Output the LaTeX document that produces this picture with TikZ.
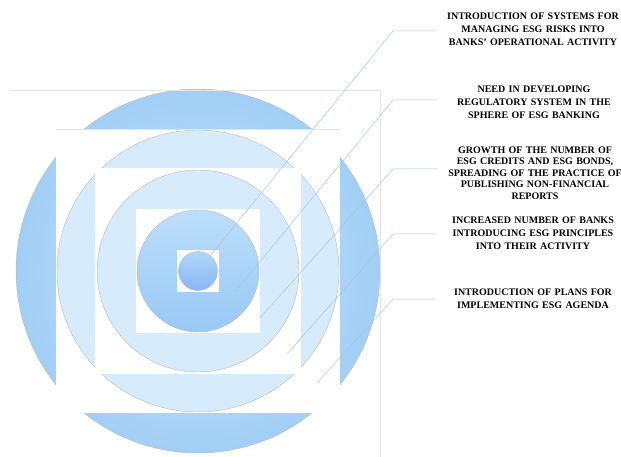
\documentclass[tikz,border=0pt]{standalone}
\usepackage{fontspec}
\setmainfont{Liberation Serif}
\usetikzlibrary{calc}
\definecolor{ringblue}{RGB}{162,207,246}
\definecolor{ringlight}{RGB}{200,228,251}
\definecolor{ringpale}{RGB}{214,236,252}
\definecolor{corelight}{RGB}{188,222,250}
\definecolor{coredark}{RGB}{152,201,245}
\definecolor{leadblue}{RGB}{165,198,226}
\definecolor{framegray}{RGB}{232,228,224}

\begin{document}
\begin{tikzpicture}[x=1pt,y=-1pt,
    ring/.style={circle, draw=gray!55, line width=0.4pt, inner sep=0pt},
    gap/.style={rectangle, fill=white, inner sep=0pt},
    itembox/.style={text width=190pt, align=center, inner sep=0pt, font=\fontsize{10}{13}\selectfont\bfseries},
    leader/.style={draw=leadblue, line width=0.5pt},
    frame/.style={draw=framegray, line width=0.5pt}
  ]
  \useasboundingbox (0,0) rectangle (621,457);
  \coordinate (c) at (198,271);

  % rings and white squares
  \node[ring, minimum size=364pt, inner color=ringlight, outer color=ringblue] (r1) at (c) {};
  \node[gap, minimum size=284pt] (s1) at (c) {};
  \node[ring, minimum size=282pt, fill=ringpale] (r2) at (c) {};
  \node[gap, minimum size=206pt] (s2) at (c) {};
  \node[ring, minimum size=202pt, fill=ringpale] (r3) at (c) {};
  \node[gap, minimum size=124pt] (s3) at (c) {};
  \node[ring, minimum size=122pt, top color=corelight, bottom color=coredark] (r4) at (c) {};
  \node[gap, minimum size=42pt] (s4) at (c) {};
  \node[ring, minimum size=39pt, top color=corelight!70!coredark, bottom color=coredark!90!blue] (r5) at (c) {};

  % faint frame lines
  \draw[frame] (10,90) -- (380,90) -- (380,457);
  \draw[frame] (s1.north west) -- (s1.north east);

  % texts
  \node[itembox] (t1) at (533,29) {INTRODUCTION OF SYSTEMS FOR\\MANAGING ESG RISKS INTO\\BANKS’ OPERATIONAL ACTIVITY};
  \node[itembox] (t2) at (534,102) {NEED IN DEVELOPING\\REGULATORY SYSTEM IN THE\\SPHERE OF ESG BANKING};
  \node[itembox, font=\fontsize{10}{11.4}\selectfont\bfseries] (t3) at (535,173) {GROWTH OF THE NUMBER OF\\ESG CREDITS AND ESG BONDS,\\SPREADING OF THE PRACTICE OF\\PUBLISHING NON-FINANCIAL\\REPORTS};
  \node[itembox] (t4) at (533,233) {INCREASED NUMBER OF BANKS\\INTRODUCING ESG PRINCIPLES\\INTO THEIR ACTIVITY};
  \node[itembox] (t5) at (533,299) {INTRODUCTION OF PLANS FOR\\IMPLEMENTING ESG AGENDA};

  % leaders
  \coordinate (b1) at (393,31);  \coordinate (p1) at (210,256);
  \coordinate (b2) at (393,100); \coordinate (p2) at (235,292);
  \coordinate (b3) at (393,169); \coordinate (p3) at (260,318);
  \coordinate (b4) at (393,234); \coordinate (p4) at (287,354);
  \coordinate (b5) at (393,299); \coordinate (p5) at (317,383);
  \foreach \i in {1,...,5}
    \draw[leader] (p\i) -- (b\i) -- ($(b\i -| t\i.west)+(-2,0)$);
\end{tikzpicture}
\end{document}
